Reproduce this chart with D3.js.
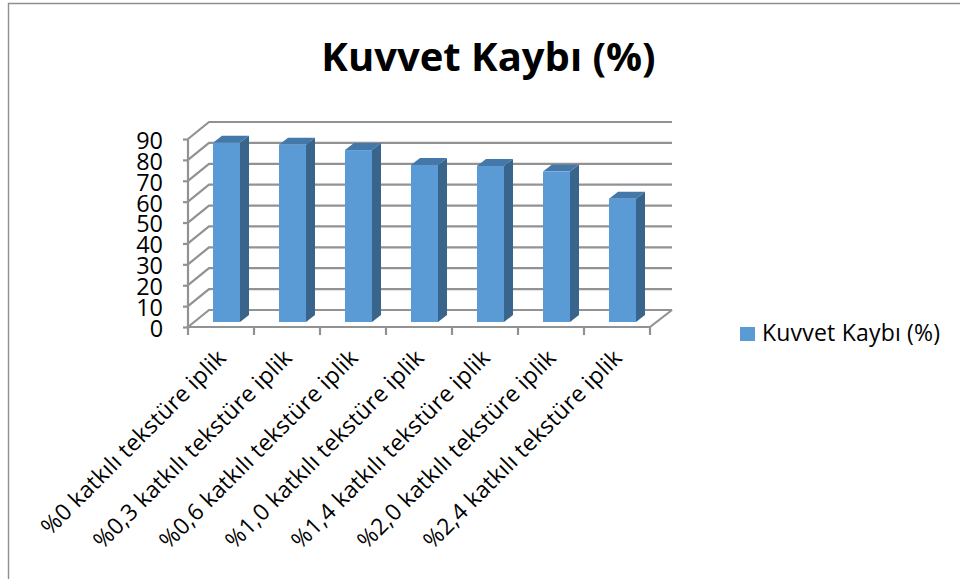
<!DOCTYPE html>
<html>
  <head>
    <meta charset="utf-8">
    <title>Kuvvet Kaybi</title>
    <script src="https://d3js.org/d3.v7.min.js"></script>
    <style>
      html, body { margin:0; padding:0; background:#fff; }
      svg { display:block; }
      text { font-family:"Open Sans", sans-serif; fill:#000; }
    </style>
  </head>
  <body>
    <svg width="960" height="579"></svg>
    <script>
      var categories = ["%0 katkılı tekstüre iplik","%0,3 katkılı tekstüre iplik","%0,6 katkılı tekstüre iplik","%1,0 katkılı tekstüre iplik","%1,4 katkılı tekstüre iplik","%2,0 katkılı tekstüre iplik","%2,4 katkılı tekstüre iplik"];
      var values = [85.8,84.9,82.3,75.2,74.7,72,59];
      var yTicks = [0,10,20,30,40,50,60,70,80,90];
      var seriesName = "Kuvvet Kaybı (%)";

      var svg = d3.select("svg");
      var gridColor = "#929292";
      var barFront = "#5b9bd5", barSide = "#39648b", barTop = "#4478a8";

      // frame of the chart area
      svg.append("path").attr("d","M8.5,579V3.5H960").attr("fill","none").attr("stroke","#8f8f8f").attr("stroke-width",1.4);

      // 3d box: front axis plane, and how far the back wall is pushed
      var depth = {x:21,y:-17};
      var barDepth = {x:9,y:-7};
      var x = d3.scaleBand().domain(categories).range([188,650]);
      var y = d3.scaleLinear().domain([0,90]).range([327,139]);
      var floorShift = -5; // bars stand in the middle of the floor

      var walls = svg.append("g").attr("fill","none").attr("stroke",gridColor).attr("stroke-width",2.2);
      // gridlines on back wall + left wall
      walls.selectAll("path.grid").data(yTicks).enter().append("path")
        .attr("class","grid")
        .attr("d",function(d){
          var p = y(d);
          return "M188,"+p+"L"+(188+depth.x)+","+(p+depth.y)+"H"+(650+depth.x+1);
        });
      // wall edges
      walls.append("path").attr("d","M188,"+y(0)+"V"+y(90));
      walls.append("path").attr("d","M"+(650)+","+y(0)+"L"+(650+depth.x+1)+","+(y(0)+depth.y));

      // axis ticks
      var yAxis = d3.axisLeft(y).tickValues(yTicks).tickSize(5).tickPadding(20);
      var gy = svg.append("g").attr("transform","translate(188,0)").call(yAxis);
      gy.select(".domain").remove();
      gy.selectAll("line").attr("stroke",gridColor).attr("stroke-width",2.2);
      gy.selectAll("text").attr("font-size",23.4).attr("dy","0.4em").style("font-family","Open Sans");

      var gx = svg.append("g").attr("transform","translate(0,"+y(0)+")");
      gx.append("line").attr("x1",188).attr("x2",650).attr("stroke",gridColor).attr("stroke-width",2.2);
      gx.selectAll("line.tick").data(d3.range(categories.length+1)).enter().append("line")
        .attr("class","tick")
        .attr("x1",function(i){return 188+i*x.step();})
        .attr("x2",function(i){return 188+i*x.step();})
        .attr("y1",0).attr("y2",8)
        .attr("stroke",gridColor).attr("stroke-width",2.2);

      // bars
      var barW = 27;
      var bars = svg.append("g").selectAll("g").data(values).enter().append("g")
        .attr("transform",function(d,i){return "translate("+(x(categories[i])+25)+","+floorShift+")";});
      bars.append("path").attr("fill",barSide)
        .attr("d",function(d){
          return "M"+barW+","+y(0)+"l"+barDepth.x+","+barDepth.y+"V"+(y(d)+barDepth.y)+"l"+(-barDepth.x)+","+(-barDepth.y)+"Z";
        });
      bars.append("path").attr("fill",barTop)
        .attr("d",function(d){
          return "M0,"+y(d)+"l"+barDepth.x+","+barDepth.y+"h"+barW+"l"+(-barDepth.x)+","+(-barDepth.y)+"Z";
        });
      bars.append("rect").attr("fill",barFront)
        .attr("width",barW)
        .attr("y",function(d){return y(d);})
        .attr("height",function(d){return y(0)-y(d);});

      // rotated category labels
      svg.append("g").selectAll("text").data(categories).enter().append("text")
        .attr("text-anchor","end")
        .attr("font-size",23)
        .attr("letter-spacing",0.2)
        .attr("transform",function(d){
          return "translate("+(x(d)+x.bandwidth()-38)+",348) rotate(-45)";
        })
        .attr("dy","0.7em")
        .text(function(d){return d;});

      // title
      svg.append("text").attr("x",488.5).attr("y",71).attr("text-anchor","middle")
        .attr("font-size",40).attr("font-weight",700).text(seriesName);

      // legend
      svg.append("rect").attr("x",740).attr("y",327).attr("width",15).attr("height",14).attr("fill",barFront);
      svg.append("text").attr("x",762).attr("y",341).attr("font-size",23).attr("letter-spacing",0.2).text(seriesName);
    </script>
  </body>
</html>
